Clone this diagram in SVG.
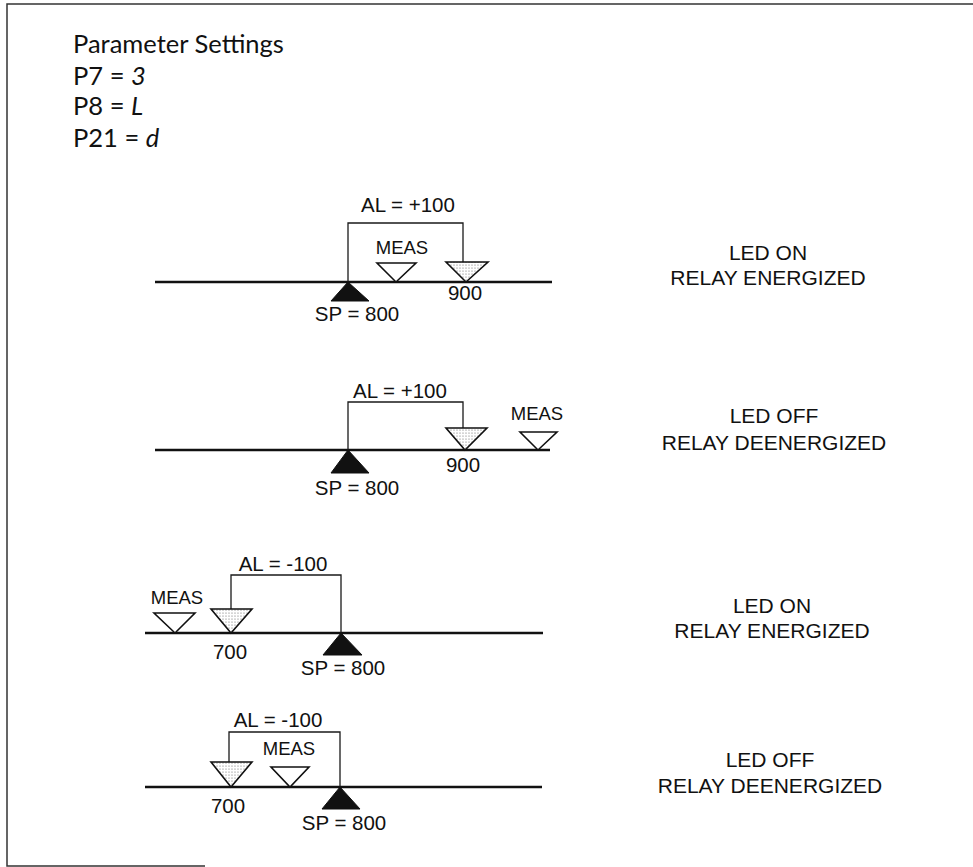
<svg xmlns="http://www.w3.org/2000/svg" width="973" height="867" viewBox="0 0 973 867">
<style>
.hdr{font-family:Lato,"Open Sans","Noto Sans",sans-serif;font-size:25.5px;fill:#111}
.it{font-style:italic}
.lbl{font-family:"Liberation Sans",Arial,sans-serif;font-size:20.5px;fill:#111;text-anchor:middle}
.ms{font-size:18.5px}
.st{font-family:"Liberation Sans",Arial,sans-serif;font-size:21px;fill:#111;text-anchor:middle}
.axis{stroke:#111;stroke-width:2.4;fill:none}
.br{stroke:#1a1a1a;stroke-width:1.3;fill:none}
.sp{fill:#111;stroke:#111;stroke-width:1}
.meas{fill:#fff;stroke:#111;stroke-width:1.6;stroke-linejoin:miter}
.al{fill:url(#dots);stroke:#111;stroke-width:1.6}
.frame{stroke:#333;stroke-width:1.5;fill:none}
</style>
<defs>
<pattern id="dots" width="3" height="3" patternUnits="userSpaceOnUse">
<rect width="3" height="3" fill="#fff"/>
<circle cx="1" cy="1" r="0.6" fill="#666"/>
</pattern>
</defs>
<rect width="973" height="867" fill="#fff"/>
<g id="frame">
<path class="frame" d="M973 4 H7 V866 H205"/>
</g>
<g id="settings">
<text class="hdr" x="73" y="53">Parameter Settings</text>
<text class="hdr" x="73" y="85">P7 = <tspan class="it">3</tspan></text>
<text class="hdr" x="73" y="115">P8 = <tspan class="it">L</tspan></text>
<text class="hdr" x="73" y="147">P21 = <tspan class="it">d</tspan></text>
</g>
<g id="connectors">
<path class="axis" d="M155 282 H552"/>
<path class="br" d="M348 282 V223 H463 V262"/>
<path class="axis" d="M155 450 H550"/>
<path class="br" d="M348 450 V402 H463 V428"/>
<path class="axis" d="M145 633 H543"/>
<path class="br" d="M231 609 V575 H341 V633"/>
<path class="axis" d="M145 787 H542"/>
<path class="br" d="M229 762 V732 H340 V787"/>
</g>
<g id="panel1">
<polygon class="sp" points="348,282 331,301 369,301"/>
<polygon class="meas" points="377,263 416,263 396,282"/>
<polygon class="al" points="446,262 488,262 466,282"/>
<text class="lbl" x="408" y="212">AL = +100</text>
<text class="lbl ms" x="402" y="254">MEAS</text>
<text class="lbl" x="465" y="300">900</text>
<text class="lbl" x="357" y="321">SP = 800</text>
<text class="st" x="768" y="260">LED ON</text>
<text class="st" x="768" y="285">RELAY ENERGIZED</text>
</g>
<g id="panel2">
<polygon class="sp" points="348,450 331,473 369,473"/>
<polygon class="al" points="446,428 487,428 465,450"/>
<polygon class="meas" points="520,432 557,432 538,450"/>
<text class="lbl" x="400" y="398">AL = +100</text>
<text class="lbl ms" x="537" y="420">MEAS</text>
<text class="lbl" x="463" y="472">900</text>
<text class="lbl" x="357" y="495">SP = 800</text>
<text class="st" x="774" y="423">LED OFF</text>
<text class="st" x="774" y="450">RELAY DEENERGIZED</text>
</g>
<g id="panel3">
<polygon class="sp" points="341,633 323,655 362,655"/>
<polygon class="al" points="211,609 252,609 231,633"/>
<polygon class="meas" points="154,613 195,613 175,633"/>
<text class="lbl" x="283" y="571">AL = -100</text>
<text class="lbl ms" x="177" y="604">MEAS</text>
<text class="lbl" x="230" y="659">700</text>
<text class="lbl" x="343" y="675">SP = 800</text>
<text class="st" x="772" y="613">LED ON</text>
<text class="st" x="772" y="638">RELAY ENERGIZED</text>
</g>
<g id="panel4">
<polygon class="sp" points="340,787 322,809 360,809"/>
<polygon class="al" points="211,762 252,762 231,787"/>
<polygon class="meas" points="271,767 309,767 290,787"/>
<text class="lbl" x="278" y="727">AL = -100</text>
<text class="lbl ms" x="289" y="755">MEAS</text>
<text class="lbl" x="228" y="813">700</text>
<text class="lbl" x="344" y="830">SP = 800</text>
<text class="st" x="770" y="767">LED OFF</text>
<text class="st" x="770" y="793">RELAY DEENERGIZED</text>
</g>
</svg>
